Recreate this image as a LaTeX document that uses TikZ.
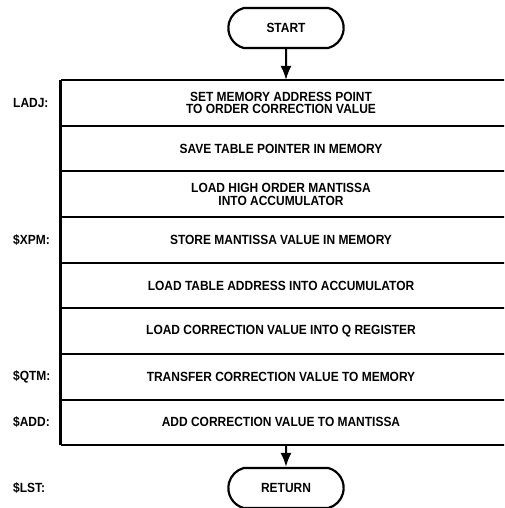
\documentclass[tikz,border=0pt]{standalone}
\usepackage{fontspec}
\setmainfont{Liberation Sans}[FakeStretch=0.9]
\usepackage{tikz}
\usetikzlibrary{arrows.meta, positioning, shapes.misc}

\begin{document}
\begin{tikzpicture}[
                x=1pt, y=-1pt,
                node distance=0pt,
                txt/.style={font=\fontsize{13.3}{12.8}\selectfont\bfseries},
                row/.style={txt, align=center, minimum width=440pt, minimum height=45.25pt, inner sep=0pt},
                term/.style={txt, draw, line width=2.2pt, rounded rectangle, rounded rectangle arc length=150, minimum width=122pt, minimum height=40pt},
                lbl/.style={txt, anchor=west, inner sep=0pt},
                frame/.style={line width=2.4pt},
                sep/.style={line width=2pt},
                arrow/.style={-{Latex[length=14pt, width=11pt]}, line width=2pt}
            ]
                \useasboundingbox (0,0) rectangle (504,508);
                \clip (0,0) rectangle (504,508);

                \node[term] (start) at (286,28) {START};
                \node[row, anchor=north] (r1) at (281,80) {SET MEMORY ADDRESS POINT\\TO ORDER CORRECTION VALUE};
                \node[row, below=of r1] (r2) {SAVE TABLE POINTER IN MEMORY};
                \node[row, below=of r2] (r3) {LOAD HIGH ORDER MANTISSA\\INTO ACCUMULATOR};
                \node[row, below=of r3] (r4) {STORE MANTISSA VALUE IN MEMORY};
                \node[row, below=of r4] (r5) {LOAD TABLE ADDRESS INTO ACCUMULATOR};
                \node[row, below=of r5] (r6) {LOAD CORRECTION VALUE INTO Q REGISTER};
                \node[row, below=of r6] (r7) {TRANSFER CORRECTION VALUE TO MEMORY};
                \node[row, below=of r7] (r8) {ADD CORRECTION VALUE TO MANTISSA};
                \node[term] (ret) at (286,488) {RETURN};

                \coordinate (lx) at (13,0);
                \node[lbl] (ladj) at (lx |- r1) {LADJ:};
                \node[lbl] (xpm) at (lx |- r4) {\$XPM:};
                \node[lbl] (qtm) at (lx |- r7) {\$QTM:};
                \node[lbl] (add) at (lx |- r8) {\$ADD:};
                \node[lbl] (lst) at (lx |- ret) {\$LST:};

                \draw[frame] (r1.north west) -- +(460,0);
                \draw[frame] (r8.south west) -- +(460,0);
                \draw[frame, line width=3pt] (r1.north west) -- (r8.south west);
                \foreach \i in {1,...,7}
                    \draw[sep] (r\i.south west) -- +(460,0);

                \draw[arrow] (start) -- (start |- r1.north);
                \draw[arrow] (ret |- r8.south) -- (ret);
            \end{tikzpicture}
\end{document}
